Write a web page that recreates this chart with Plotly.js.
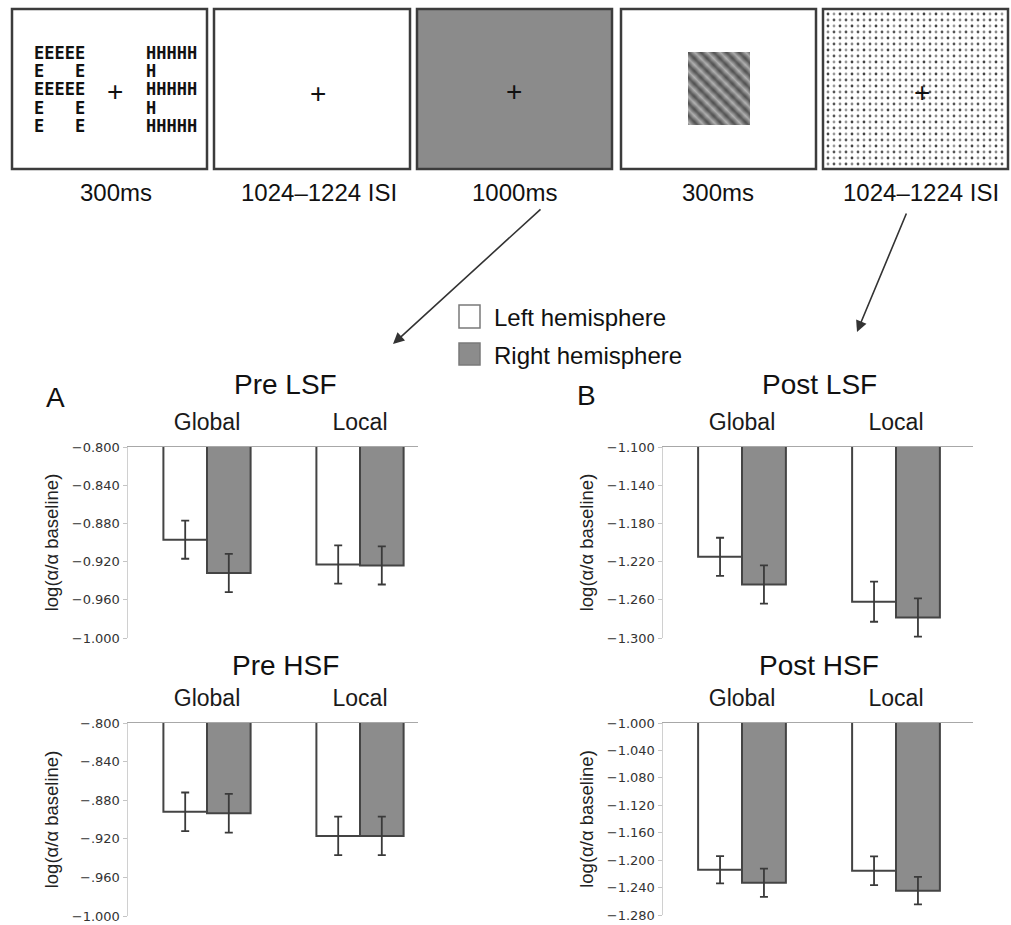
<!DOCTYPE html>
<html><head><meta charset="utf-8">
<script src="https://cdn.plot.ly/plotly-3.0.1.min.js"></script>
<style>html,body{margin:0;padding:0;background:#fff}#chart{width:1011px;height:925px}</style>
</head><body><div id="chart"></div><script>
// ---------- data ----------
const categories = ['Global', 'Local'];
const seriesNames = ['Left hemisphere', 'Right hemisphere'];

const preLSFLeft = [-0.897, -0.923];
const preLSFRight = [-0.932, -0.924];
const preLSFLeftErr = [0.020, 0.020];
const preLSFRightErr = [0.020, 0.020];

const postLSFLeft = [-1.215, -1.262];
const postLSFRight = [-1.244, -1.2785];
const postLSFLeftErr = [0.020, 0.021];
const postLSFRightErr = [0.020, 0.020];

const preHSFLeft = [-0.892, -0.917];
const preHSFRight = [-0.8935, -0.917];
const preHSFLeftErr = [0.020, 0.020];
const preHSFRightErr = [0.020, 0.020];

const postHSFLeft = [-1.214, -1.2155];
const postHSFRight = [-1.233, -1.2445];
const postHSFLeftErr = [0.020, 0.021];
const postHSFRightErr = [0.0205, 0.020];

const preLSFTicks = [-0.8, -0.84, -0.88, -0.92, -0.96, -1.0];
const preLSFTickText = ['−0.800', '−0.840', '−0.880', '−0.920', '−0.960', '−1.000'];
const postLSFTicks = [-1.1, -1.14, -1.18, -1.22, -1.26, -1.3];
const postLSFTickText = ['−1.100', '−1.140', '−1.180', '−1.220', '−1.260', '−1.300'];
const preHSFTicks = [-0.8, -0.84, -0.88, -0.92, -0.96, -1.0];
const preHSFTickText = ['−.800', '−.840', '−.880', '−.920', '−.960', '−1.000'];
const postHSFTicks = [-1.0, -1.04, -1.08, -1.12, -1.16, -1.2, -1.24, -1.28];
const postHSFTickText = ['−1.000', '−1.040', '−1.080', '−1.120', '−1.160', '−1.200', '−1.240', '−1.280'];

const panelTitles = ['Pre LSF', 'Post LSF', 'Pre HSF', 'Post HSF'];
const panelLetters = ['A', 'B'];
const yTitle = 'log(α/α baseline)';
const stimulusLabels = ['300ms', '1024–1224 ISI', '1000ms', '300ms', '1024–1224 ISI'];
const globalLetterRows = ['EEEEE', 'E\u00a0\u00a0\u00a0E', 'EEEEE', 'E\u00a0\u00a0\u00a0E', 'E\u00a0\u00a0\u00a0E'];
const localLetterRows = ['HHHHH', 'H\u00a0\u00a0\u00a0\u00a0', 'HHHHH', 'H\u00a0\u00a0\u00a0\u00a0', 'HHHHH'];

// ---------- helpers ----------
const W = 1011, H = 925;
const X = p => p / W;
const Y = p => 1 - p / H;
const SANS = 'Liberation Sans, Arial, Helvetica, sans-serif';
const FILL_L = '#ffffff', FILL_R = '#8c8c8c', EDGE = '#444444';

function barPair(left, right, lErr, rErr, xa, ya) {
  const mk = (name, y, err, fill) => ({
    type: 'bar', name: name, x: categories, y: y, xaxis: xa, yaxis: ya,
    marker: { color: fill, line: { color: EDGE, width: 2 } },
    error_y: { type: 'data', array: err, visible: true, color: '#3a3a3a', thickness: 1.8, width: 4 },
    showlegend: false, hoverinfo: 'x+y'
  });
  return [mk(seriesNames[0], left, lErr, FILL_L), mk(seriesNames[1], right, rErr, FILL_R)];
}

const data = [].concat(
  barPair(preLSFLeft, preLSFRight, preLSFLeftErr, preLSFRightErr, 'x', 'y'),
  barPair(postLSFLeft, postLSFRight, postLSFLeftErr, postLSFRightErr, 'x2', 'y2'),
  barPair(preHSFLeft, preHSFRight, preHSFLeftErr, preHSFRightErr, 'x3', 'y3'),
  barPair(postHSFLeft, postHSFRight, postHSFLeftErr, postHSFRightErr, 'x4', 'y4')
);

function xax(domPx, range, anchor) {
  return {
    domain: [X(domPx[0]), X(domPx[1])], range: range, anchor: anchor, type: 'category',
    side: 'top', showline: true, linecolor: '#a8a8a8', linewidth: 1.5, ticks: '',
    showgrid: false, zeroline: false, ticklabelstandoff: 6,
    tickfont: { family: SANS, size: 23, color: '#1a1a1a' }, fixedrange: true
  };
}
function yax(domPx, range, anchor, tickvals, ticktext) {
  return {
    domain: [Y(domPx[1]), Y(domPx[0])], range: range, anchor: anchor,
    showline: true, linecolor: '#d0d0d0', linewidth: 1.5, ticks: 'outside', ticklen: 4,
    tickcolor: '#c4c4c4', tickwidth: 1, showgrid: false, zeroline: false,
    tickmode: 'array', tickvals: tickvals, ticktext: ticktext,
    tickfont: { family: 'DejaVu Sans, sans-serif', size: 13, color: '#333' },
    title: { text: yTitle, font: { family: SANS, size: 18.5, color: '#222' }, standoff: 8 },
    fixedrange: true
  };
}

const preX = [128, 418], postX = [663, 973];
const preRange = [(128 - 207) / 153, (418 - 207) / 153];
const postRange = [(663 - 742) / 154, (973 - 742) / 154];

// ---------- stimulus images (decorative patterns) ----------
const gratingSvg = "<svg xmlns='http://www.w3.org/2000/svg' width='62' height='73'><defs>" +
  "<linearGradient id='g'><stop offset='0' stop-color='#4a4a4a'/><stop offset='0.5' stop-color='#b4b4b4'/><stop offset='1' stop-color='#4a4a4a'/></linearGradient>" +
  "<pattern id='p' width='9' height='9' patternUnits='userSpaceOnUse' patternTransform='rotate(-45)'><rect width='9' height='9' fill='url(#g)'/></pattern>" +
  "<pattern id='q' width='9' height='9' patternUnits='userSpaceOnUse' patternTransform='rotate(45)'><rect width='9' height='9' fill='url(#g)'/></pattern>" +
  "</defs><rect width='62' height='73' fill='url(#p)'/><rect width='62' height='73' fill='url(#q)' opacity='0.12'/></svg>";
const dotSvg = "<svg xmlns='http://www.w3.org/2000/svg' width='181' height='156'><defs>" +
  "<pattern id='d' width='12' height='12' patternUnits='userSpaceOnUse'>" +
  "<circle cx='3' cy='3' r='1.4' fill='#444'/><circle cx='9' cy='3' r='1.4' fill='#999'/>" +
  "<circle cx='3' cy='9' r='1.4' fill='#8a8a8a'/><circle cx='9' cy='9' r='1.4' fill='#555'/></pattern>" +
  "</defs><rect width='181' height='156' fill='#fff'/><rect width='181' height='156' fill='url(#d)'/></svg>";
const svgUri = s => 'data:image/svg+xml;charset=utf-8,' + encodeURIComponent(s);

const images = [
  { source: svgUri(gratingSvg), xref: 'paper', yref: 'paper', x: X(688), y: Y(52), sizex: 62 / W, sizey: 73 / H, xanchor: 'left', yanchor: 'top', sizing: 'stretch', layer: 'above' },
  { source: svgUri(dotSvg), xref: 'paper', yref: 'paper', x: X(825), y: Y(11), sizex: 181 / W, sizey: 156 / H, xanchor: 'left', yanchor: 'top', sizing: 'stretch', layer: 'above' }
];

// ---------- shapes ----------
const panelBoxes = [[12, 207, null], [214, 410, null], [417, 612, '#8b8b8b'], [621, 816, null], [823, 1008, null]];
const shapes = panelBoxes.map(b => ({
  type: 'rect', xref: 'paper', yref: 'paper', x0: X(b[0]), x1: X(b[1]), y0: Y(169), y1: Y(9),
  line: { color: '#3c3c3c', width: 2.5 }, fillcolor: b[2] || 'rgba(0,0,0,0)', layer: 'above'
}));
shapes.push(
  { type: 'rect', xref: 'paper', yref: 'paper', x0: X(459), x1: X(480), y0: Y(328), y1: Y(305), line: { color: '#7a7a7a', width: 1.5 }, fillcolor: FILL_L },
  { type: 'rect', xref: 'paper', yref: 'paper', x0: X(459), x1: X(480), y0: Y(365), y1: Y(343), line: { color: '#7a7a7a', width: 1.5 }, fillcolor: FILL_R }
);

// ---------- annotations ----------
const ann = [];
const txt = (text, x, y, size, extra) => Object.assign({
  text: text, xref: 'paper', yref: 'paper', x: X(x), y: Y(y), xanchor: 'center', yanchor: 'middle',
  showarrow: false, font: { family: SANS, size: size, color: '#111' }
}, extra || {});

const stimX = [116, 319, 514, 718, 921];
stimulusLabels.forEach((s, i) => ann.push(txt(s, stimX[i], 192, 24)));
[[115, 92], [318, 94], [514, 92], [922, 93]].forEach(p => ann.push(txt('+', p[0], p[1], 28)));
const rowY = [53, 71, 89, 108, 126];
const letterFont = { family: 'DejaVu Sans Mono, monospace', size: 17, color: '#111', weight: 'bold' };
globalLetterRows.forEach((r, i) => ann.push(txt(r, 32, rowY[i], 17, { xanchor: 'left', font: letterFont })));
localLetterRows.forEach((r, i) => ann.push(txt(r, 144, rowY[i], 17, { xanchor: 'left', font: letterFont })));

// arrows
ann.push({ text: '', xref: 'paper', yref: 'paper', x: X(393), y: Y(344), ax: 149, ay: -136, showarrow: true, arrowhead: 2, arrowsize: 1.4, arrowwidth: 1.6, arrowcolor: '#333' });
ann.push({ text: '', xref: 'paper', yref: 'paper', x: X(857), y: Y(332), ax: 50, ay: -120, showarrow: true, arrowhead: 2, arrowsize: 1.4, arrowwidth: 1.6, arrowcolor: '#333' });

// legend text
ann.push(txt(seriesNames[0], 492, 317, 24, { xanchor: 'left' }));
ann.push(txt(seriesNames[1], 492, 355, 24, { xanchor: 'left' }));

// panel titles and letters
[[285, 385], [819, 385], [285, 665], [819, 665]].forEach((p, i) => ann.push(txt(panelTitles[i], p[0], p[1], 28)));
ann.push(txt(panelLetters[0], 55, 397, 28));
ann.push(txt(panelLetters[1], 586, 395, 28));

const layout = {
  width: W, height: H, autosize: false,
  margin: { l: 0, r: 0, t: 0, b: 0, pad: 0 },
  paper_bgcolor: '#fff', plot_bgcolor: 'rgba(0,0,0,0)',
  barmode: 'group', bargap: 0.43, bargroupgap: 0,
  showlegend: false,
  font: { family: SANS, color: '#111' },
  xaxis: xax(preX, preRange, 'y'),
  yaxis: yax([447, 638], [-1.0, -0.8], 'x', preLSFTicks, preLSFTickText),
  xaxis2: xax(postX, postRange, 'y2'),
  yaxis2: yax([447, 638], [-1.3, -1.1], 'x2', postLSFTicks, postLSFTickText),
  xaxis3: xax(preX, preRange, 'y3'),
  yaxis3: yax([723, 916], [-1.0, -0.8], 'x3', preHSFTicks, preHSFTickText),
  xaxis4: xax(postX, postRange, 'y4'),
  yaxis4: yax([723, 915], [-1.28, -1.0], 'x4', postHSFTicks, postHSFTickText),
  shapes: shapes, annotations: ann, images: images
};

Plotly.newPlot('chart', data, layout, { displayModeBar: false, staticPlot: true });
</script></body></html>
